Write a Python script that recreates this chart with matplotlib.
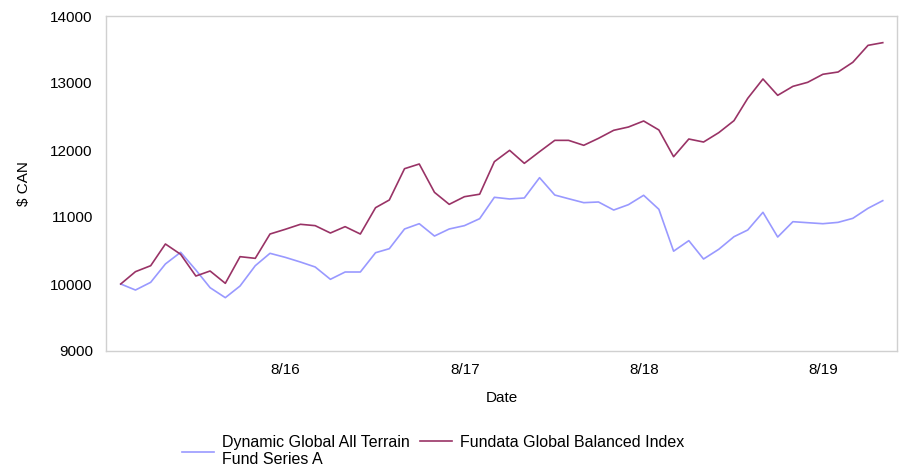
import pandas as pd
import numpy as np
import matplotlib
matplotlib.use('Agg')
import matplotlib.pyplot as plt

# month-end values, Aug 2015 - Nov 2019
dates = pd.date_range('2015-08-31', periods=52, freq='ME')

fund = [10000, 9910, 10025, 10299, 10473, 10209, 9945, 9796, 9970, 10273,
        10458, 10398, 10328, 10254, 10070, 10179, 10179, 10467, 10527, 10821,
        10900, 10716, 10821, 10871, 10975, 11294, 11269, 11284, 11587, 11328,
        11273, 11214, 11224, 11104, 11184, 11324, 11115, 10490, 10647, 10373,
        10518, 10706, 10806, 11070, 10701, 10930, 10915, 10900, 10920, 10980,
        11130, 11244]

index = [10000, 10184, 10273, 10597, 10443, 10119, 10194, 10010, 10408, 10383,
         10746, 10816, 10891, 10871, 10761, 10856, 10746, 11139, 11254, 11721,
         11791, 11368, 11189, 11303, 11340, 11826, 11995, 11801, 11975, 12144,
         12144, 12070, 12174, 12294, 12343, 12433, 12299, 11900, 12164, 12119,
         12259, 12438, 12771, 13060, 12816, 12950, 13010, 13130, 13164, 13309,
         13562, 13602]

tick_dates = pd.to_datetime(['2016-08-01', '2017-08-01', '2018-08-01', '2019-08-01'])
tick_labels = ['8/16', '8/17', '8/18', '8/19']
y_ticks = [9000, 10000, 11000, 12000, 13000, 14000]

plt.rcParams['font.family'] = ['Liberation Sans', 'DejaVu Sans']

fig = plt.figure(figsize=(9.02, 4.67), dpi=100)
ax = fig.add_axes([106/902, 1 - 351/467, (897-106)/902, (351-16)/467])

l1, = ax.plot(dates, fund, color='#9999ff', lw=1.2)
l2, = ax.plot(dates, index, color='#993366', lw=1.2)

ax.set_xlim(pd.Timestamp('2015-08-01'), pd.Timestamp('2019-12-29'))
ax.set_ylim(9000, 14000)
ax.set_xticks(tick_dates)
ax.set_xticklabels(tick_labels)
ax.set_yticks(y_ticks)
ax.tick_params(length=0, labelsize=11, colors='#000000')
ax.tick_params(axis='x', pad=9)
ax.tick_params(axis='y', pad=9.5)

for s in ax.spines.values():
    s.set_color('#d0d0d0')
    s.set_linewidth(1.0)

ax.set_xlabel('Date', fontsize=11, labelpad=9.5)
ax.set_ylabel('$ CAN', fontsize=11, labelpad=14)

# two legends so the single-line entry lines up with the first line of the other
leg_kw = dict(loc='upper left', frameon=False, fontsize=11.5, handlelength=2.0,
              handletextpad=0.5, borderaxespad=0, borderpad=0)
fig.legend([l1], ['Dynamic Global All Terrain\nFund Series A'],
           bbox_to_anchor=(182/902, 1 - 435/467), **leg_kw)
fig.legend([l2], ['Fundata Global Balanced Index'],
           bbox_to_anchor=(420/902, 1 - 435/467), **leg_kw)

fig.savefig('out.png', dpi=100)
